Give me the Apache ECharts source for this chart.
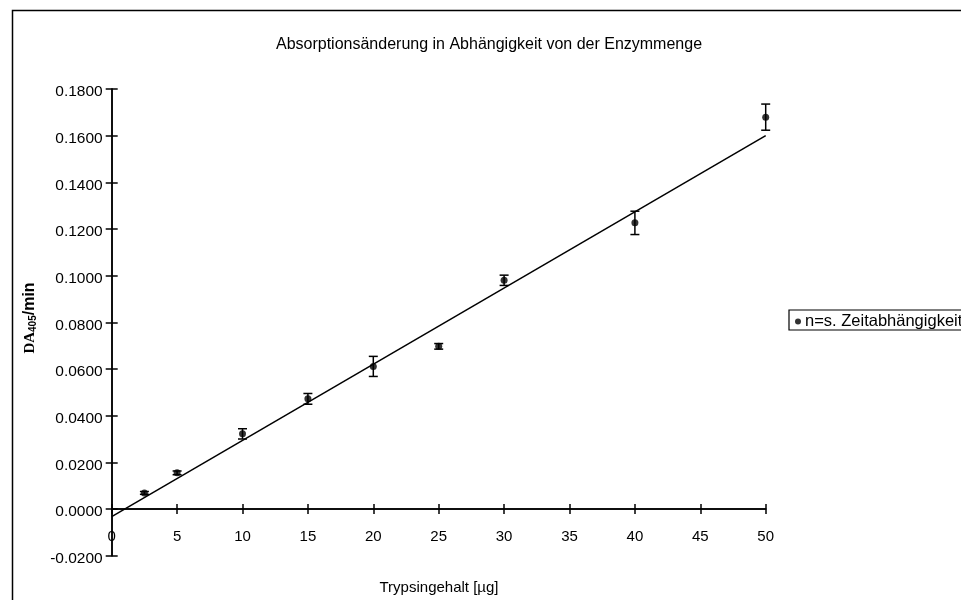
<!DOCTYPE html>
<html>
<head>
<meta charset="utf-8">
<script src="https://cdn.jsdelivr.net/npm/echarts@6/dist/echarts.min.js"></script>
<style>
html,body{margin:0;padding:0;background:#fff;}
#chart{width:961px;height:600px;}
</style>
</head>
<body>
<div id="chart"></div>
<script>
// ---- data ----
const trypsin = [2.5, 5, 10, 15, 20, 25, 30, 40, 50];
const deltaA = [0.0069, 0.0155, 0.0322, 0.0472, 0.0611, 0.0697, 0.0980, 0.1226, 0.1679];
const errorVal = [0.0006, 0.0008, 0.0022, 0.0023, 0.0043, 0.0012, 0.0022, 0.0050, 0.0056];
const trendX = [0, 50];
const trendY = [-0.0033, 0.1600];
const xTicks = [0, 5, 10, 15, 20, 25, 30, 35, 40, 45, 50];
const yTicks = [-0.02, 0, 0.02, 0.04, 0.06, 0.08, 0.10, 0.12, 0.14, 0.16, 0.18];

const titleText = 'Absorptionsänderung in Abhängigkeit von der Enzymmenge';
const xName = 'Trypsingehalt [µg]';
const seriesName = 'n=s. Zeitabhängigkeit';

const points = trypsin.map((x, i) => [x, deltaA[i]]);
const errData = trypsin.map((x, i) => [x, deltaA[i] - errorVal[i], deltaA[i] + errorVal[i]]);
const trendData = trendX.map((x, i) => [x, trendY[i]]);

const font = 'Liberation Sans, Arial, sans-serif';
const chart = echarts.init(document.getElementById('chart'), null, {renderer: 'canvas'});

const xBase = {
  type: 'value', min: xTicks[0], max: xTicks[xTicks.length - 1], interval: 5,
  position: 'bottom',
  splitLine: {show: false},
  axisLine: {onZero: true, onZeroAxisIndex: 0, lineStyle: {color: '#000', width: 1.5}}
};
const yBase = {
  type: 'value', min: yTicks[0], max: yTicks[yTicks.length - 1], interval: 0.02,
  position: 'left',
  splitLine: {show: false},
  axisLine: {onZero: true, onZeroAxisIndex: 0, lineStyle: {color: '#000', width: 1.5}}
};

chart.setOption({
  animation: false,
  backgroundColor: '#fff',
  grid: {left: 111.7, right: 195.3, top: 88.9, bottom: 44.3, containLabel: false, outerBoundsMode: 'none'},
  xAxis: [
    Object.assign({}, xBase, {
      axisTick: {show: true, length: 5, lineStyle: {color: '#000', width: 1.5}},
      axisLabel: {color: '#000', fontFamily: font, fontSize: 15, margin: -26}
    }),
    Object.assign({}, xBase, {
      axisTick: {show: true, inside: true, length: 5, lineStyle: {color: '#000', width: 1.5}},
      axisLabel: {show: false}
    })
  ],
  yAxis: [
    Object.assign({}, yBase, {
      axisTick: {show: true, length: 6, lineStyle: {color: '#000', width: 1.5}},
      axisLabel: {color: '#000', fontFamily: font, fontSize: 15.5, margin: 9,
        formatter: v => '{a|' + v.toFixed(4) + '}',
        rich: {a: {fontFamily: font, fontSize: 15.5, color: '#000', padding: [6, 0, 0, 0]}}}
    }),
    Object.assign({}, yBase, {
      axisTick: {show: true, inside: true, length: 6, lineStyle: {color: '#000', width: 1.5}},
      axisLabel: {show: false}
    })
  ],
  legend: {
    show: true,
    data: [{name: seriesName, icon: 'circle'}],
    left: 789, top: 310,
    orient: 'vertical',
    borderColor: '#000', borderWidth: 1.2,
    padding: [3, 30, 0, 6],
    itemWidth: 6, itemHeight: 6, itemGap: 0,
    textStyle: {color: '#000', fontFamily: font, fontSize: 16.5, padding: [0, 0, 0, -1]}
  },
  graphic: [
    {type: 'rect', shape: {x: 12.5, y: 10.5, width: 1200, height: 800},
     style: {fill: 'none', stroke: '#000', lineWidth: 1.5}, silent: true, z: -1},
    {type: 'text', x: 489, y: 45,
     style: {text: titleText, fill: '#000', font: '16px ' + font, textAlign: 'center', textVerticalAlign: 'middle'}},
    {type: 'text', x: 439, y: 588,
     style: {text: xName, fill: '#000', font: '15px ' + font, textAlign: 'center', textVerticalAlign: 'middle'}},
    {type: 'text', x: 30, y: 318, rotation: Math.PI / 2,
     style: {
       text: '{a|DA}{b|405}{c|/min}',
       textAlign: 'center', textVerticalAlign: 'middle',
       rich: {
         a: {fontFamily: 'Liberation Serif, serif', fontSize: 15, fontWeight: 'bold', fill: '#000'},
         b: {fontFamily: font, fontSize: 10, fontWeight: 'bold', fill: '#000', verticalAlign: 'bottom'},
         c: {fontFamily: font, fontSize: 16, fontWeight: 'bold', fill: '#000'}
       }
     }}
  ],
  series: [
    {
      name: 'Trend', type: 'line', data: trendData, symbol: 'none',
      lineStyle: {color: '#000', width: 1.5}, silent: true, z: 2
    },
    {
      name: 'err', type: 'custom', data: errData,
      encode: {x: 0, y: [1, 2]},
      renderItem: function (params, api) {
        const x = api.value(0);
        const lo = api.coord([x, api.value(1)]);
        const hi = api.coord([x, api.value(2)]);
        const hw = 4.5;
        const st = {stroke: '#000', lineWidth: 1.5};
        return {
          type: 'group',
          children: [
            {type: 'line', shape: {x1: lo[0], y1: lo[1], x2: hi[0], y2: hi[1]}, style: st},
            {type: 'line', shape: {x1: lo[0] - hw, y1: lo[1], x2: lo[0] + hw, y2: lo[1]}, style: st},
            {type: 'line', shape: {x1: hi[0] - hw, y1: hi[1], x2: hi[0] + hw, y2: hi[1]}, style: st}
          ]
        };
      },
      z: 3
    },
    {
      name: seriesName, type: 'scatter', data: points,
      symbol: 'circle', symbolSize: 7,
      itemStyle: {color: '#000'}, z: 4
    }
  ]
});
</script>
</body>
</html>
